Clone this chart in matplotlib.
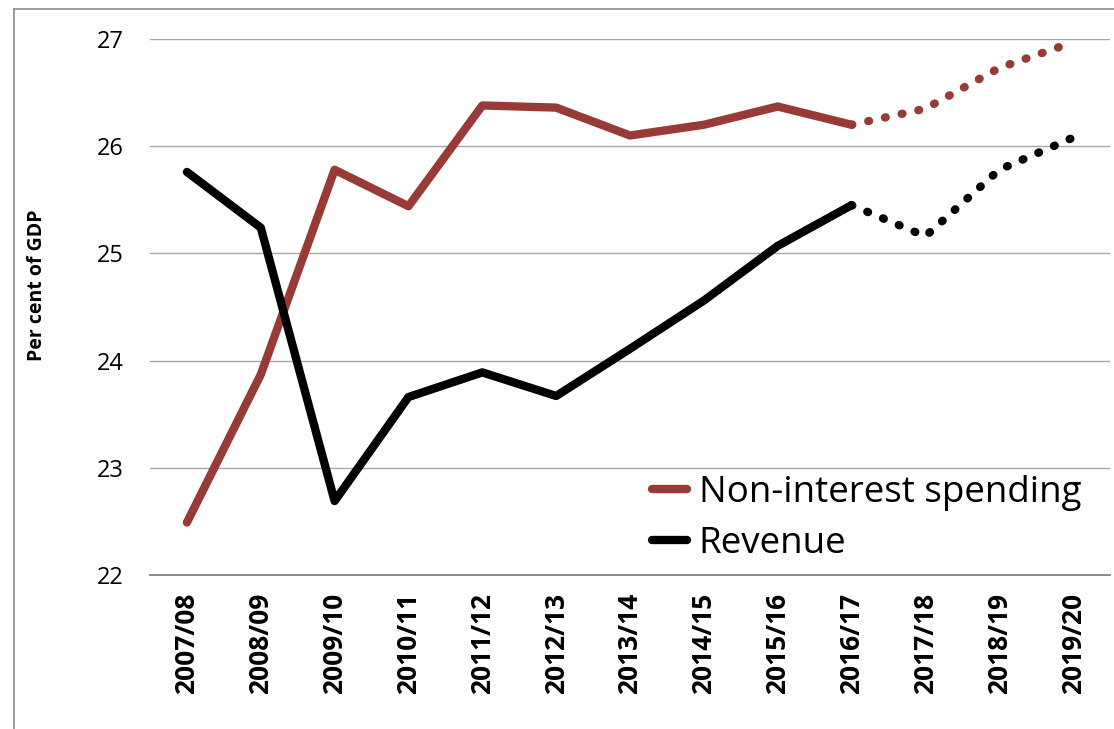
import matplotlib.pyplot as plt
from matplotlib.lines import Line2D

years = ["2007/08", "2008/09", "2009/10", "2010/11", "2011/12", "2012/13", "2013/14",
         "2014/15", "2015/16", "2016/17", "2017/18", "2018/19", "2019/20"]
spending = [22.49, 23.87, 25.78, 25.44, 26.38, 26.36, 26.10, 26.20, 26.37, 26.20,
            26.35, 26.73, 26.97]
revenue = [25.76, 25.24, 22.69, 23.66, 23.89, 23.67, 24.11, 24.56, 25.07, 25.45,
           25.16, 25.78, 26.08]
last_actual = 9  # 2016/17, forecasts after it are dotted

RED = "#983a36"
LW = 6
plt.rcParams["font.family"] = ["Open Sans", "DejaVu Sans"]

fig = plt.figure(figsize=(11.14, 7.29), dpi=100)
ax = fig.add_axes([150 / 1114, 1 - 575 / 729, 960 / 1114, 536 / 729])

x = list(range(len(years)))
dots = (0, (0.1, 1.95))
for vals, col in [(spending, RED), (revenue, "black")]:
    ax.plot(x[:last_actual + 1], vals[:last_actual + 1], color=col, lw=LW,
            solid_capstyle="round", solid_joinstyle="round")
    ax.plot(x[last_actual:], vals[last_actual:], color=col, lw=LW, ls=dots,
            dash_capstyle="round")

ax.set_xlim(-0.5, len(years) - 0.5)
ax.set_ylim(22, 27)
ax.set_yticks(range(22, 28))
ax.set_xticks(x, years, rotation=90, fontweight="bold", fontsize=19)
ax.tick_params(axis="y", length=0, pad=19, labelsize=17)
ax.tick_params(axis="x", length=0, pad=13)
ax.grid(axis="y", color="#a6a6a6", lw=1)
ax.set_axisbelow(True)
for s in ["top", "right", "left"]:
    ax.spines[s].set_visible(False)
ax.spines["bottom"].set_color("#7f7f7f")
ax.spines["bottom"].set_linewidth(1.3)

fig.text(37 / 1114, 1 - 285 / 729, "Per cent of GDP", rotation=90, fontsize=14,
         fontweight="bold", ha="center", va="center")

handles = [Line2D([], [], color=RED, lw=LW, solid_capstyle="round"),
           Line2D([], [], color="black", lw=LW, solid_capstyle="round")]
ax.legend(handles, ["Non-interest spending", "Revenue"], frameon=False, fontsize=26.5,
          loc="upper left", bbox_to_anchor=(648 / 1114, 1 - 471 / 729),
          bbox_transform=fig.transFigure, handlelength=0.95, handletextpad=0.33,
          labelspacing=0.42, borderaxespad=0, borderpad=0.1)

# chart-area border, cropped on the right and bottom
fig.add_artist(Line2D([14 / 1114, 14 / 1114], [0, 1 - 9 / 729], color="#8c8c8c", lw=1.2,
                      transform=fig.transFigure))
fig.add_artist(Line2D([14 / 1114, 1], [1 - 9 / 729, 1 - 9 / 729], color="#8c8c8c", lw=1.2,
                      transform=fig.transFigure))

fig.savefig("out.png", dpi=100)
